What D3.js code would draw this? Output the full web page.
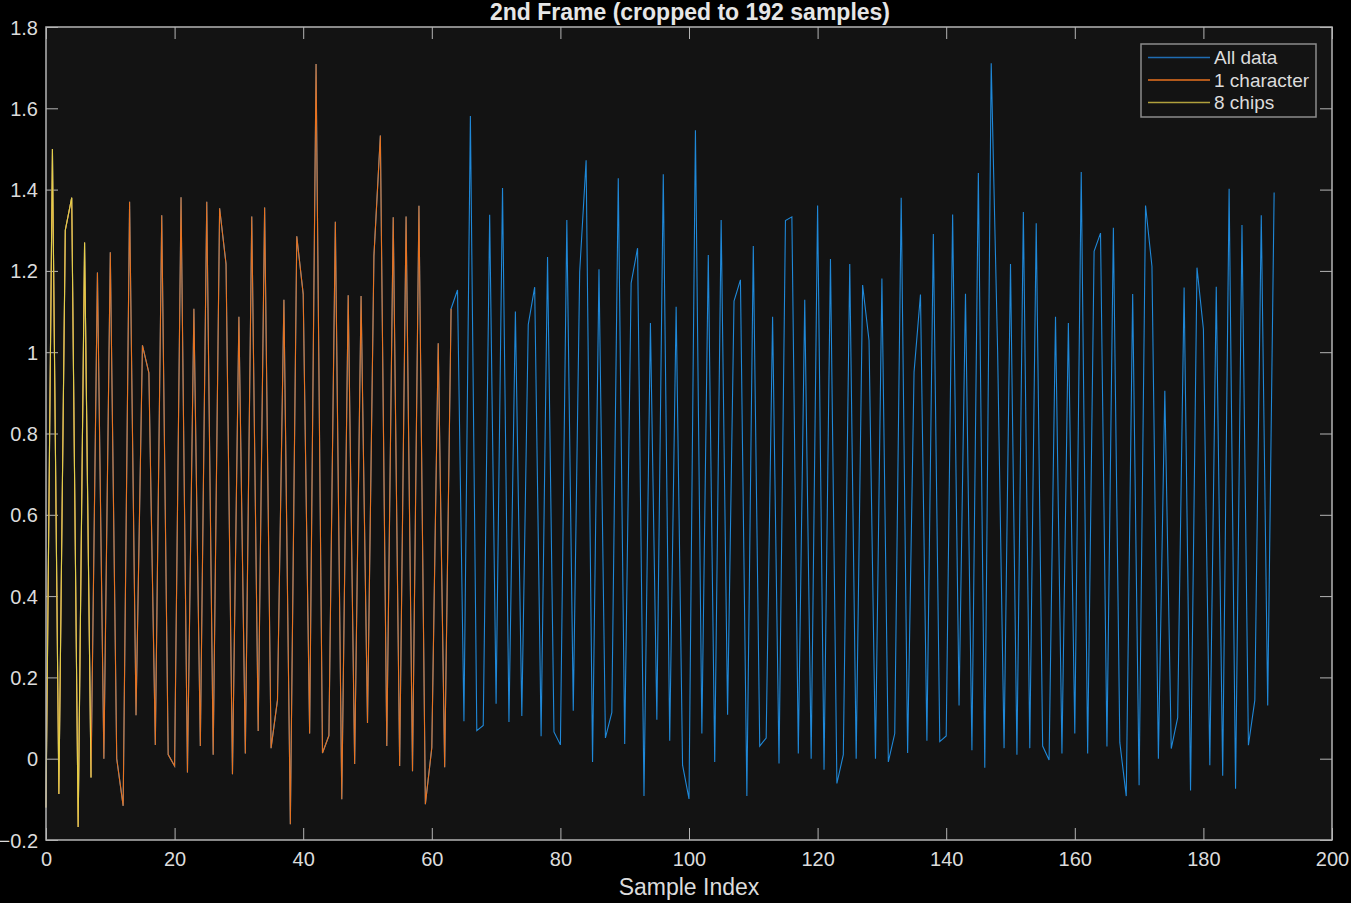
<!DOCTYPE html>
<html>
<head>
<meta charset="utf-8">
<script src="https://cdn.jsdelivr.net/npm/d3@7"></script>
<style>
  html, body { margin: 0; padding: 0; background: #000; }
  svg { display: block; }
  text { font-family: "Liberation Sans", Arial, sans-serif; fill: #dcdcdc; }
</style>
</head>
<body>
<div id="chart"></div>
<script>
// samples of the 2nd frame
var frameSamples = [
  -0.12, 1.50, -0.087, 1.30, 1.38, -0.168, 1.27, -0.046, 1.196, 0.0,
  1.246, 0.0, -0.116, 1.37, 0.107, 1.017, 0.949, 0.034, 1.337, 0.01,
  -0.018, 1.381, -0.034, 1.107, 0.031, 1.37, 0.01, 1.354, 1.217, -0.038,
  1.087, 0.013, 1.334, 0.068, 1.356, 0.026, 0.144, 1.129, -0.161, 1.285,
  1.143, 0.062, 1.709, 0.014, 0.057, 1.321, -0.10, 1.14, -0.013, 1.138,
  0.088, 1.237, 1.533, 0.031, 1.332, -0.018, 1.334, -0.031, 1.36, -0.112,
  0.027, 1.022, -0.021, 1.107, 1.153, 0.092, 1.581, 0.069, 0.082, 1.338,
  0.135, 1.404, 0.09, 1.10, 0.105, 1.068, 1.16, 0.055, 1.234, 0.066,
  0.034, 1.325, 0.118, 1.198, 1.472, -0.008, 1.204, 0.051, 0.114, 1.428,
  0.036, 1.17, 1.256, -0.092, 1.072, 0.096, 1.438, 0.044, 1.112, -0.016,
  -0.099, 1.546, 0.062, 1.239, -0.008, 1.325, 0.108, 1.126, 1.178, -0.092,
  1.261, 0.031, 0.051, 1.087, -0.012, 1.324, 1.333, 0.013, 1.129, 0.0,
  1.361, -0.027, 1.229, -0.061, 0.01, 1.217, 0.0, 1.165, 1.029, 0.0,
  1.181, -0.008, 0.062, 1.38, 0.014, 0.951, 1.142, 0.044, 1.291, 0.042,
  0.056, 1.339, 0.131, 1.144, 0.021, 1.441, -0.022, 1.711, 1.0, 0.026,
  1.217, 0.01, 1.345, 0.026, 1.317, 0.031, -0.003, 1.087, 0.013, 1.072,
  0.062, 1.443, 0.013, 1.248, 1.293, 0.03, 1.306, 0.04, -0.092, 1.143,
  -0.065, 1.361, 1.211, 0.0, 0.905, 0.025, 0.101, 1.159, -0.078, 1.208,
  1.057, -0.016, 1.161, -0.042, 1.402, -0.074, 1.313, 0.033, 0.144, 1.337,
  0.131, 1.393
];

var seriesNames = ["All data", "1 character", "8 chips"];
var seriesLengths = [192, 64, 8];
var seriesColors = ["#1f88d8", "#e8721f", "#e4cf48"];
var legendColors = ["#1f6cb2", "#e8721f", "#b0a03c"];

var xTicks = [0, 20, 40, 60, 80, 100, 120, 140, 160, 180, 200];
var yTicks = [-0.2, 0, 0.2, 0.4, 0.6, 0.8, 1, 1.2, 1.4, 1.6, 1.8];

var W = 1351, H = 903;
var margin = {left: 46, top: 27, right: 19, bottom: 63};
var pw = W - margin.left - margin.right,
    ph = H - margin.top - margin.bottom;

var svg = d3.select("#chart").append("svg")
  .attr("width", W).attr("height", H);

var g = svg.append("g").attr("transform", "translate(" + margin.left + "," + margin.top + ")");

var x = d3.scaleLinear().domain([0, 200]).range([0, pw]);
var y = d3.scaleLinear().domain([-0.2, 1.8]).range([ph, 0]);

// plot background
g.append("rect").attr("width", pw).attr("height", ph).attr("fill", "#131313");

var axisCol = "#b4b4b4";
var tickLen = 12;

// axes: bottom/left with labels, top/right ticks only
var xAxis = g.append("g").attr("transform", "translate(0," + ph + ")")
  .call(d3.axisBottom(x).tickValues(xTicks).tickSizeInner(-tickLen).tickSizeOuter(0).tickPadding(12)
    .tickFormat(d3.format("d")));
var yAxis = g.append("g")
  .call(d3.axisLeft(y).tickValues(yTicks).tickSizeInner(-tickLen).tickSizeOuter(0).tickPadding(8)
    .tickFormat(function(d) { return d3.format("~g")(+d.toFixed(1)); }));
var xTop = g.append("g")
  .call(d3.axisTop(x).tickValues(xTicks).tickSizeInner(-tickLen).tickSizeOuter(0).tickFormat(""));
var yRight = g.append("g").attr("transform", "translate(" + pw + ",0)")
  .call(d3.axisRight(y).tickValues(yTicks).tickSizeInner(-tickLen).tickSizeOuter(0).tickFormat(""));

[xAxis, yAxis, xTop, yRight].forEach(function(a) {
  a.select(".domain").remove();
  a.selectAll(".tick line").attr("stroke", axisCol);
  a.selectAll(".tick text").attr("fill", "#dcdcdc").style("font-size", "20px")
    .style("font-family", "'Liberation Sans', Arial, sans-serif");
});
yAxis.selectAll(".tick text").attr("dy", "0.35em");

// data lines, longest first so shorter ones sit on top
var line = d3.line()
  .x(function(d, i) { return x(i); })
  .y(function(d) { return y(d); });

var plot = g.append("g");
seriesLengths.forEach(function(n, k) {
  plot.append("path")
    .datum(frameSamples.slice(0, n))
    .attr("fill", "none")
    .attr("stroke", seriesColors[k])
    .attr("stroke-width", 1.1)
    .attr("stroke-linejoin", "miter")
    .attr("d", line);
});

// box
g.append("rect").attr("width", pw).attr("height", ph)
  .attr("fill", "none").attr("stroke", axisCol).attr("stroke-width", 1.5);

// title and x label
svg.append("text")
  .attr("x", margin.left + pw / 2 + 1).attr("y", 20)
  .attr("text-anchor", "middle")
  .style("font-size", "23px").style("font-weight", "bold")
  .style("fill", "#e6e6e6")
  .text("2nd Frame (cropped to 192 samples)");

svg.append("text")
  .attr("x", margin.left + pw / 2).attr("y", 895)
  .attr("text-anchor", "middle")
  .style("font-size", "23px")
  .text("Sample Index");

// legend
var leg = svg.append("g").attr("transform", "translate(1141,44)");
leg.append("rect").attr("width", 175).attr("height", 73)
  .attr("fill", "#131313").attr("stroke", "#8c8c8c").attr("stroke-width", 1.5);
seriesNames.forEach(function(name, k) {
  var ly = 13.5 + k * 22.5;
  leg.append("line").attr("x1", 7).attr("x2", 69).attr("y1", ly).attr("y2", ly)
    .attr("stroke", legendColors[k]).attr("stroke-width", 1.5);
  leg.append("text").attr("x", 73).attr("y", ly).attr("dy", "0.36em")
    .style("font-size", "19px").text(name);
});
</script>
</body>
</html>
